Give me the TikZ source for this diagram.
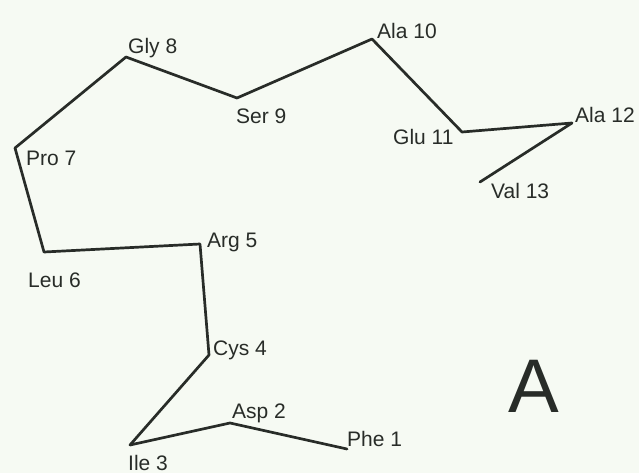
\documentclass[tikz,border=0pt]{standalone}
\usepackage{fontspec}
\setmainfont{Liberation Sans}
\definecolor{bgc}{RGB}{246,250,243}
\definecolor{ink}{RGB}{40,44,40}
\begin{document}
\begin{tikzpicture}[x=1pt,y=-1pt,
  chain/.style={draw=ink,line width=2.7pt,line join=round,line cap=round},
  lbl/.style={anchor=base west,inner sep=0pt,text=ink,font=\fontsize{21}{24}\selectfont},
  big/.style={anchor=base,inner sep=0pt,text=ink,font=\fontsize{76}{80}\selectfont}]
\fill[bgc] (0,0) rectangle (639,473);
\useasboundingbox (0,0) rectangle (639,473);
% residue positions
\coordinate (r1) at (347,449);
\coordinate (r2) at (230,423);
\coordinate (r3) at (130,445);
\coordinate (r4) at (209,355);
\coordinate (r5) at (200,244);
\coordinate (r6) at (44,252);
\coordinate (r7) at (15,148);
\coordinate (r8) at (126,57);
\coordinate (r9) at (237,98);
\coordinate (r10) at (372,39);
\coordinate (r11) at (462,132);
\coordinate (r12) at (572,123);
\coordinate (r13) at (480,182);
\draw[chain] (r1) -- (r2) -- (r3) -- (r4) -- (r5) -- (r6) -- (r7) -- (r8) -- (r9) -- (r10) -- (r11) -- (r12) -- (r13);
% labels
\node[lbl] (l1) at (347,446) {Phe 1};
\node[lbl] (l2) at (232,418) {Asp 2};
\node[lbl] (l3) at (128,470) {Ile 3};
\node[lbl] (l4) at (213,355) {Cys 4};
\node[lbl] (l5) at (207,247) {Arg 5};
\node[lbl] (l6) at (28,287) {Leu 6};
\node[lbl] (l7) at (26,165.5) {Pro 7};
\node[lbl] (l8) at (128,53.5) {Gly 8};
\node[lbl] (l9) at (236,124) {Ser 9};
\node[lbl] (l10) at (377,39) {Ala 10};
\node[lbl] (l11) at (393,145) {Glu 11};
\node[lbl] (l12) at (575,123) {Ala 12};
\node[lbl] (l13) at (491,198) {Val 13};
\node[big] (tagA) at (534,412) {A};
\end{tikzpicture}
\end{document}
